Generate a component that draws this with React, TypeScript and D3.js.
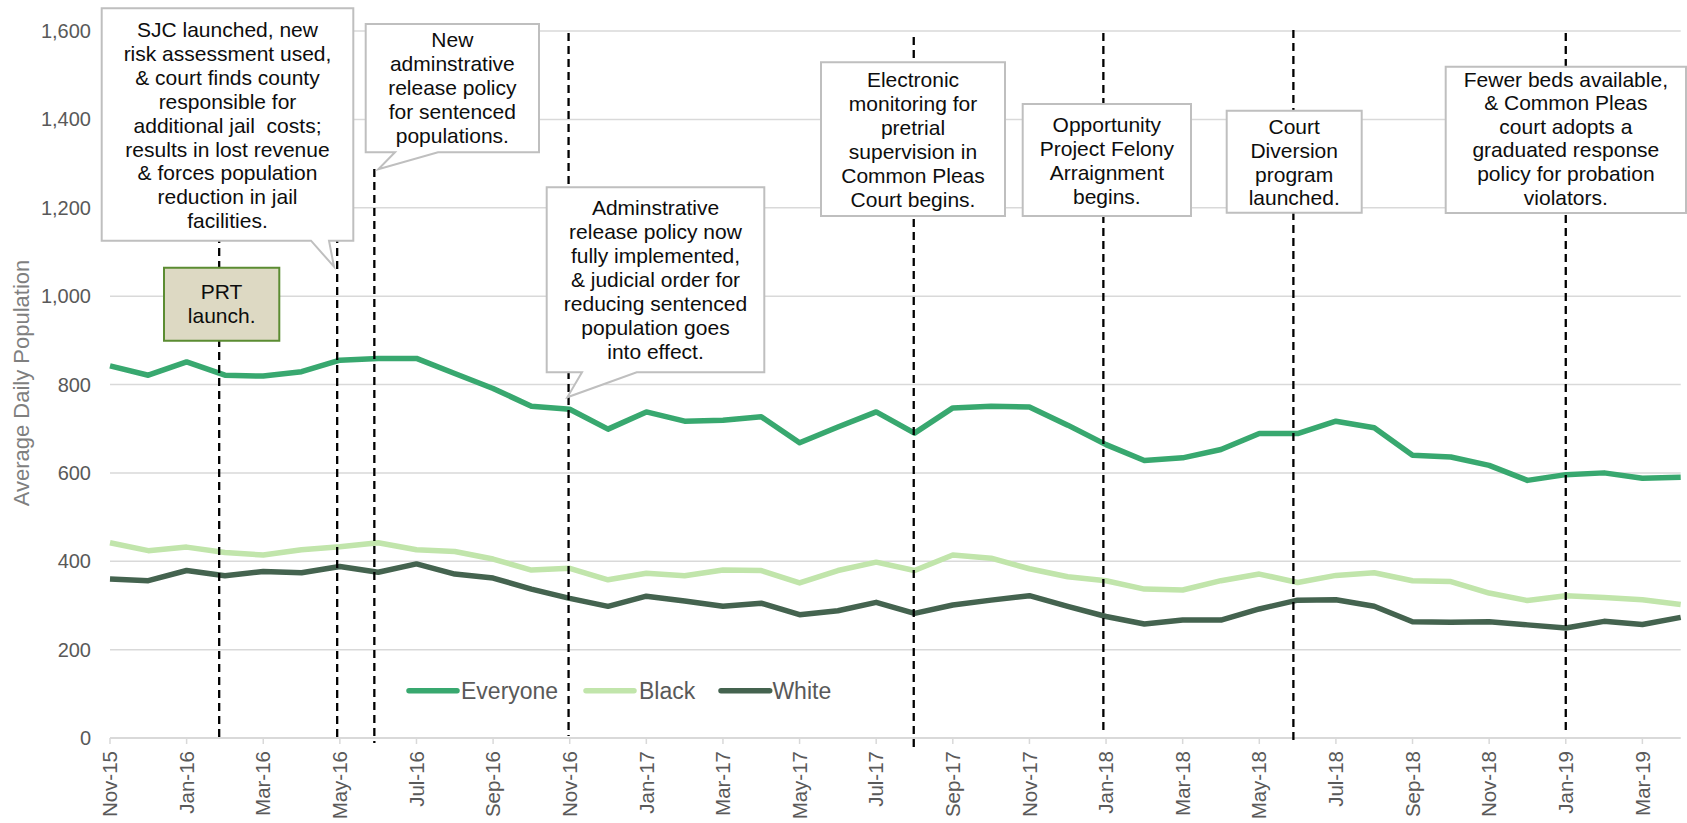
import React from "react";
import * as d3 from "d3";

// ---------------- DATA ----------------
const months = [
  "Nov-15", "Dec-15", "Jan-16", "Feb-16", "Mar-16", "Apr-16", "May-16", "Jun-16", "Jul-16", "Aug-16", "Sep-16",
  "Oct-16", "Nov-16", "Dec-16", "Jan-17", "Feb-17", "Mar-17", "Apr-17", "May-17", "Jun-17", "Jul-17", "Aug-17",
  "Sep-17", "Oct-17", "Nov-17", "Dec-17", "Jan-18", "Feb-18", "Mar-18", "Apr-18", "May-18", "Jun-18",
  "Jul-18", "Aug-18", "Sep-18", "Oct-18", "Nov-18", "Dec-18", "Jan-19", "Feb-19", "Mar-19", "Apr-19",
];

const tickLabels = [
  "Nov-15", "Jan-16", "Mar-16", "May-16", "Jul-16", "Sep-16", "Nov-16", "Jan-17", "Mar-17", "May-17", "Jul-17",
  "Sep-17", "Nov-17", "Jan-18", "Mar-18", "May-18", "Jul-18", "Sep-18", "Nov-18", "Jan-19", "Mar-19",
];

const yTicks = [0, 200, 400, 600, 800, 1000, 1200, 1400, 1600];

const everyone = [
  842, 821, 851, 821, 819, 829, 855, 859, 859, 825, 791,
  751, 744, 699, 738, 717, 719, 727, 668, 704, 738, 690,
  747, 751, 749, 708, 664, 628, 634, 653, 689, 689,
  717, 702, 640, 636, 617, 583, 596, 600, 588, 590,
];
const black = [
  442, 424, 432, 420, 414, 426, 433, 442, 426, 422, 405,
  380, 384, 358, 373, 367, 380, 379, 351, 379, 398, 379,
  414, 407, 383, 365, 356, 337, 335, 356, 371, 352,
  368, 374, 356, 354, 328, 311, 322, 318, 313, 302,
];
const white = [
  360, 356, 379, 367, 377, 374, 388, 375, 394, 371, 362,
  337, 316, 298, 321, 310, 298, 305, 279, 288, 307, 282,
  301, 312, 322, 298, 275, 258, 267, 267, 292, 312,
  313, 298, 263, 262, 263, 256, 249, 264, 257, 273,
];

const seriesNames = ["Everyone", "Black", "White"];
const seriesValues = [everyone, black, white];
const seriesColors = ["#38A86F", "#C1E5AB", "#44634F"];

// event dates (fractional month index from Nov-15)
const eventMonths = [2.85, 5.93, 6.9, 11.97, 20.98, 25.93, 30.89, 38];

const eventTexts = [
  ["PRT", "launch."],
  ["SJC launched, new", "risk assessment used,", "& court finds county", "responsible for", "additional jail  costs;", "results in lost revenue", "& forces population", "reduction in jail", "facilities."],
  ["New", "adminstrative", "release policy", "for sentenced", "populations."],
  ["Adminstrative", "release policy now", "fully implemented,", "& judicial order for", "reducing sentenced", "population goes", "into effect."],
  ["Electronic", "monitoring for", "pretrial", "supervision in", "Common Pleas", "Court begins."],
  ["Opportunity", "Project Felony", "Arraignment", "begins."],
  ["Court", "Diversion", "program", "launched."],
  ["Fewer beds available,", "& Common Pleas", "court adopts a", "graduated response", "policy for probation", "violators."],
];

// ---------------- LAYOUT ----------------
const W = 1687;
const H = 823;
const PLOT = { left: 110, right: 1680.7, top: 31, bottom: 738 };

// dashed-line vertical extents (px)
const eventLineTop = [40, 40, 169, 33, 37, 33, 30, 33];
const eventLineBottom = [738, 738, 743, 736, 747, 733, 740, 732];

// annotation boxes (px); tail = [baseLeft, baseRight, tipX, tipY]
type Box = { x0: number; x1: number; y0: number; y1: number; firstY: number; lh?: number; tail?: number[]; prt?: boolean };
const boxes: Box[] = [
  { x0: 164, x1: 279.3, y0: 267.7, y1: 340.7, firstY: 292.3, prt: true },
  { x0: 101.7, x1: 353.3, y0: 8.3, y1: 240.7, firstY: 30, tail: [311, 329, 334, 266.7] },
  { x0: 365.7, x1: 539, y0: 24, y1: 152.3, firstY: 40, tail: [395, 438, 378.3, 169.3] },
  { x0: 546.7, x1: 764.3, y0: 187.3, y1: 372.3, firstY: 208.3, tail: [582, 636.7, 567.3, 397.3] },
  { x0: 821, x1: 1005, y0: 62.3, y1: 216, firstY: 80 },
  { x0: 1022.7, x1: 1191, y0: 104, y1: 216, firstY: 125 },
  { x0: 1226.7, x1: 1361.7, y0: 110.7, y1: 212.7, firstY: 126.7 },
  { x0: 1445.7, x1: 1686, y0: 66.7, y1: 213, firstY: 79.5, lh: 23.6 },
];

const FONT = "'Liberation Sans', Arial, sans-serif";

export default function App() {
  const x = d3.scaleLinear().domain([0, months.length - 1]).range([PLOT.left, PLOT.right]);
  const y = d3.scaleLinear().domain([0, 1600]).range([PLOT.bottom, PLOT.top]);
  const line = d3
    .line<number>()
    .x((_, i) => x(i))
    .y((d) => y(d));

  const legendItems = [
    { sx0: 409, sx1: 457, tx: 461 },
    { sx0: 586, sx1: 634, tx: 639 },
    { sx0: 721, sx1: 769.7, tx: 772.4 },
  ];
  const legendY = 690.7;

  const annFS = 21;
  const lineH = 23.9;

  const boxPath = (b: Box) => {
    if (!b.tail) {
      return `M${b.x0},${b.y0}H${b.x1}V${b.y1}H${b.x0}Z`;
    }
    const [bl, br, tx, ty] = b.tail;
    return `M${b.x0},${b.y0}H${b.x1}V${b.y1}H${br}L${tx},${ty}L${bl},${b.y1}H${b.x0}Z`;
  };

  return (
    <svg
      width={W}
      height={H}
      viewBox={`0 0 ${W} ${H}`}
      style={{ position: "absolute", left: 0, top: 0, background: "#fff" }}
      fontFamily={FONT}
    >
      <rect x={0} y={0} width={W} height={H} fill="#fff" />
      {/* gridlines */}
      {yTicks
        .filter((t) => t > 0)
        .map((t) => (
          <line key={t} x1={PLOT.left} x2={PLOT.right} y1={y(t)} y2={y(t)} stroke="#D9D9D9" strokeWidth={1.5} />
        ))}
      {/* x axis */}
      <line x1={PLOT.left} x2={PLOT.right} y1={y(0)} y2={y(0)} stroke="#D9D9D9" strokeWidth={2} />
      {tickLabels.map((lab) => {
        const i = months.indexOf(lab);
        return <line key={"tk" + lab} x1={x(i)} x2={x(i)} y1={y(0)} y2={y(0) + 6} stroke="#D9D9D9" strokeWidth={1.5} />;
      })}
      {tickLabels.map((lab) => {
        const i = months.indexOf(lab);
        return (
          <text
            key={"tl" + lab}
            transform={`translate(${x(i) + 7.2},${751}) rotate(-90)`}
            textAnchor="end"
            fontSize={20.5}
            fill="#595959"
          >
            {lab}
          </text>
        );
      })}
      {/* y tick labels */}
      {yTicks.map((t) => (
        <text key={"yl" + t} x={91} y={y(t) + 7} textAnchor="end" fontSize={20} fill="#595959">
          {d3.format(",")(t)}
        </text>
      ))}
      {/* y title */}
      <text
        transform={`translate(${29},${383}) rotate(-90)`}
        textAnchor="middle"
        fontSize={22}
        fill="#7F7F7F"
      >
        Average Daily Population
      </text>

      {/* series */}
      {seriesValues.map((vals, k) => (
        <path
          key={seriesNames[k]}
          d={line(vals) || ""}
          fill="none"
          stroke={seriesColors[k]}
          strokeWidth={5.5}
          strokeLinejoin="round"
        />
      ))}

      {/* event dashed lines */}
      {eventMonths.map((m, k) => (
        <line
          key={"ev" + k}
          x1={x(m)}
          x2={x(m)}
          y1={eventLineTop[k]}
          y2={eventLineBottom[k]}
          stroke="#000"
          strokeWidth={2.3}
          strokeDasharray="8,5"
        />
      ))}

      {/* legend */}
      {seriesNames.map((n, k) => (
        <g key={"lg" + n}>
          <line
            x1={legendItems[k].sx0}
            x2={legendItems[k].sx1}
            y1={legendY}
            y2={legendY}
            stroke={seriesColors[k]}
            strokeWidth={5.5}
            strokeLinecap="round"
          />
          <text x={legendItems[k].tx} y={legendY + 8} fontSize={23} fill="#595959">
            {n}
          </text>
        </g>
      ))}

      {/* annotation boxes */}
      {boxes.map((b, k) => (
        <g key={"bx" + k}>
          <path
            d={boxPath(b)}
            fill={b.prt ? "#DDD9C3" : "#fff"}
            stroke={b.prt ? "#5B8C32" : "#BFBFBF"}
            strokeWidth={2}
            strokeLinejoin="miter"
          />
          {eventTexts[k].map((ln, j) => (
            <text
              key={j}
              x={(b.x0 + b.x1) / 2}
              y={b.firstY + j * (b.lh ?? lineH) + 7}
              textAnchor="middle"
              fontSize={annFS}
              fill="#0D0D0D"
              style={{ whiteSpace: "pre" }}
            >
              {ln}
            </text>
          ))}
        </g>
      ))}
    </svg>
  );
}
